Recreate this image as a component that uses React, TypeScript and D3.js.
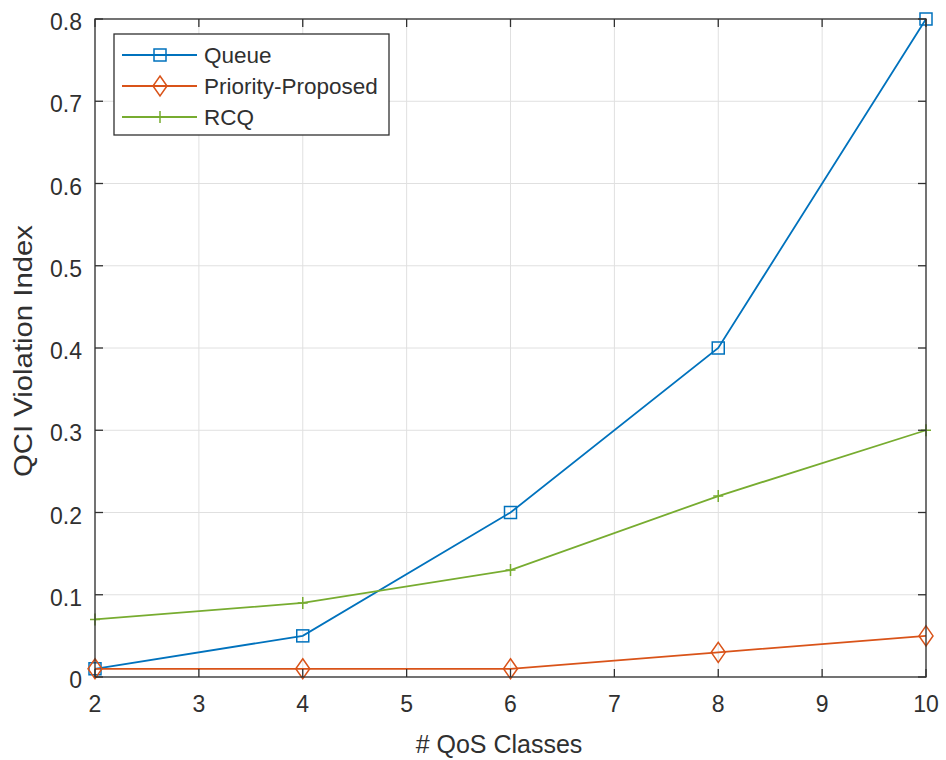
import React from "react";
import * as d3 from "d3";

const xValues = [2, 4, 6, 8, 10];
const queueValues = [0.01, 0.05, 0.2, 0.4, 0.8];
const priorityValues = [0.01, 0.01, 0.01, 0.03, 0.05];
const rcqValues = [0.07, 0.09, 0.13, 0.22, 0.3];
const xTicks = [2, 3, 4, 5, 6, 7, 8, 9, 10];
const yTicks = [0, 0.1, 0.2, 0.3, 0.4, 0.5, 0.6, 0.7, 0.8];
const seriesNames = ["Queue", "Priority-Proposed", "RCQ"];
const seriesColors = ["#0072BD", "#D95319", "#77AC30"];

const W = 946;
const H = 760;
const L = 95, R = 926, T = 19, B = 677;

export default function App() {
  const x = d3.scaleLinear().domain([2, 10]).range([L, R]);
  const y = d3.scaleLinear().domain([0, 0.8]).range([B, T]);
  const line = d3
    .line<[number, number]>()
    .x((d) => x(d[0]))
    .y((d) => y(d[1]));
  const series = [queueValues, priorityValues, rcqValues].map((vals) =>
    vals.map((v, i) => [xValues[i], v] as [number, number])
  );
  const font = "Liberation Sans, Arial, Helvetica, sans-serif";
  const textColor = "#303030";
  const tickLen = 8;

  const marker = (k: number, cx: number, cy: number, key: string) => {
    const c = seriesColors[k];
    if (k === 0)
      return <rect key={key} x={cx - 6} y={cy - 6} width={12} height={12} fill="none" stroke={c} strokeWidth={1.5} />;
    if (k === 1)
      return (
        <path key={key} d={`M${cx},${cy - 10}L${cx + 7},${cy}L${cx},${cy + 10}L${cx - 7},${cy}Z`} fill="none" stroke={c} strokeWidth={1.5} />
      );
    return (
      <path key={key} d={`M${cx - 5},${cy}H${cx + 5}M${cx},${cy - 6}V${cy + 6}`} stroke={c} strokeWidth={1.5} />
    );
  };

  return (
    <svg width={W} height={H} style={{ position: "absolute", left: 0, top: 0, background: "#fff" }} fontFamily={font}>
      <rect x={0} y={0} width={W} height={H} fill="#fff" />
      {xTicks.map((t) => (
        <line key={"gx" + t} x1={x(t)} x2={x(t)} y1={T} y2={B} stroke="#e0e0e0" strokeWidth={1} />
      ))}
      {yTicks.map((t) => (
        <line key={"gy" + t} x1={L} x2={R} y1={y(t)} y2={y(t)} stroke="#e0e0e0" strokeWidth={1} />
      ))}
      {series.map((s, k) => (
        <path key={"l" + k} d={line(s) || ""} fill="none" stroke={seriesColors[k]} strokeWidth={1.8} />
      ))}
      {series.map((s, k) => s.map((d, i) => marker(k, x(d[0]), y(d[1]), `m${k}-${i}`)))}
      <rect x={L} y={T} width={R - L} height={B - T} fill="none" stroke={textColor} strokeWidth={1.3} />
      {xTicks.map((t) => (
        <g key={"tx" + t}>
          <line x1={x(t)} x2={x(t)} y1={B} y2={B - tickLen} stroke={textColor} strokeWidth={1.3} />
          <line x1={x(t)} x2={x(t)} y1={T} y2={T + tickLen} stroke={textColor} strokeWidth={1.3} />
          <text x={x(t)} y={B + 35} textAnchor="middle" fontSize={23} fill={textColor}>
            {t}
          </text>
        </g>
      ))}
      {yTicks.map((t) => (
        <g key={"ty" + t}>
          <line x1={L} x2={L + tickLen} y1={y(t)} y2={y(t)} stroke={textColor} strokeWidth={1.3} />
          <line x1={R} x2={R - tickLen} y1={y(t)} y2={y(t)} stroke={textColor} strokeWidth={1.3} />
          <text x={L - 13} y={y(t) + 11} textAnchor="end" fontSize={23} fill={textColor}>
            {t === 0 ? "0" : d3.format(".1f")(t)}
          </text>
        </g>
      ))}
      <text x={499} y={753} textAnchor="middle" fontSize={25} fill={textColor}>
        # QoS Classes
      </text>
      <text
        transform={`translate(32,351) rotate(-90)`}
        textAnchor="middle"
        fontSize={26}
        fill={textColor}
        textLength={252}
        lengthAdjust="spacingAndGlyphs"
      >
        QCI Violation Index
      </text>
      <rect x={114} y={34} width={275} height={101} fill="#fff" stroke={textColor} strokeWidth={1.3} />
      {seriesNames.map((n, k) => {
        const ly = 55 + k * 31;
        return (
          <g key={"lg" + k}>
            <line x1={122} x2={197} y1={ly} y2={ly} stroke={seriesColors[k]} strokeWidth={1.8} />
            {marker(k, 160, ly, "lm" + k)}
            <text x={204} y={ly + 8} fontSize={22.5} fill={textColor}>
              {n}
            </text>
          </g>
        );
      })}
    </svg>
  );
}
